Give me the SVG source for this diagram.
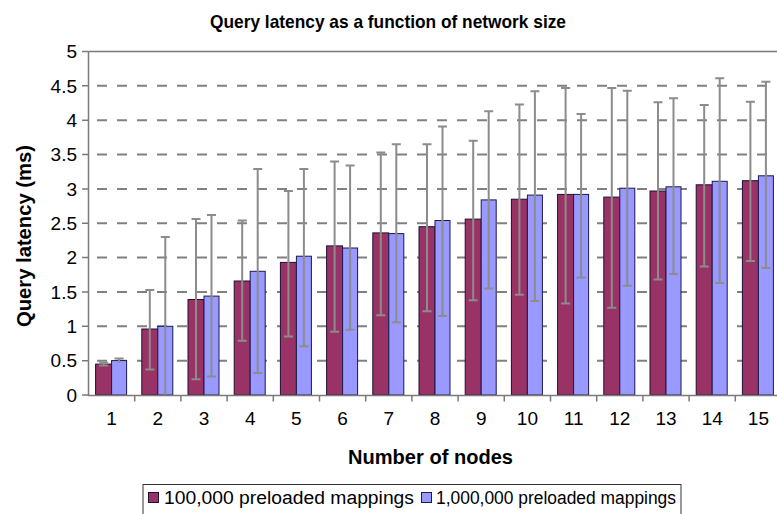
<svg xmlns="http://www.w3.org/2000/svg" width="777" height="514" viewBox="0 0 777 514">
  <style>
    text { font-family: "Liberation Sans", Arial, sans-serif; fill: #000; }
    .title { font-size: 19px; font-weight: bold; }
    .axt { font-size: 20px; font-weight: bold; }
    .tick { font-size: 19px; }
    .leg { font-size: 18px; }
    .grid { stroke: #808080; stroke-width: 2; stroke-dasharray: 10 10; fill: none; }
    .axis { stroke: #7a7a7a; stroke-width: 1.5; fill: none; }
    .r { fill: #993366; stroke: #1e1030; stroke-width: 1; }
    .b { fill: #9999ff; stroke: #1a1a50; stroke-width: 1; }
    .err { stroke: #8c8c8c; stroke-width: 2; fill: none; }
  </style>

  <!-- title -->
  <text class="title" x="388" y="28" text-anchor="middle" textLength="356" lengthAdjust="spacingAndGlyphs">Query latency as a function of network size</text>

  <!-- y-axis title -->
  <text class="axt" transform="translate(31,236) rotate(-90)" text-anchor="middle" textLength="182" lengthAdjust="spacingAndGlyphs">Query latency (ms)</text>

  <!-- horizontal gridlines (0.5 .. 4.5) -->
  <g id="gridlines">
    <path class="grid" d="M97 360.65H777M97 326.3H777M97 291.95H777M97 257.6H777M97 223.25H777M97 188.9H777M97 154.55H777M97 120.2H777M97 85.85H777"/>
    <path class="axis" d="M88.5 51.5H777"/>
  </g>

  <!-- series: 100,000 preloaded mappings -->
  <g id="series-100k">
    <rect class="r" x="95.6" y="364.1" width="16" height="30.9"/>
    <rect class="r" x="141.8" y="329.0" width="16" height="66.0"/>
    <rect class="r" x="188" y="299.5" width="16" height="95.5"/>
    <rect class="r" x="234.2" y="281.0" width="16" height="114"/>
    <rect class="r" x="280.4" y="262.4" width="16" height="132.6"/>
    <rect class="r" x="326.6" y="245.9" width="16" height="149.1"/>
    <rect class="r" x="372.8" y="232.9" width="16" height="162.1"/>
    <rect class="r" x="419" y="226.7" width="16" height="168.3"/>
    <rect class="r" x="465.2" y="219.1" width="16" height="175.9"/>
    <rect class="r" x="511.4" y="199.2" width="16" height="195.8"/>
    <rect class="r" x="557.6" y="194.4" width="16" height="200.6"/>
    <rect class="r" x="603.8" y="197.1" width="16" height="197.9"/>
    <rect class="r" x="650" y="191.0" width="16" height="204"/>
    <rect class="r" x="696.2" y="184.8" width="16" height="210.2"/>
    <rect class="r" x="742.4" y="180.7" width="16" height="214.3"/>
  </g>

  <!-- series: 1,000,000 preloaded mappings -->
  <g id="series-1m">
    <rect class="b" x="111.6" y="360.6" width="15" height="34.4"/>
    <rect class="b" x="157.8" y="326.3" width="15" height="68.7"/>
    <rect class="b" x="204" y="296.1" width="15" height="98.9"/>
    <rect class="b" x="250.2" y="271.3" width="15" height="123.7"/>
    <rect class="b" x="296.4" y="256.2" width="15" height="138.8"/>
    <rect class="b" x="342.6" y="248.0" width="15" height="147"/>
    <rect class="b" x="388.8" y="233.6" width="15" height="161.4"/>
    <rect class="b" x="435" y="220.5" width="15" height="174.5"/>
    <rect class="b" x="481.2" y="199.9" width="15" height="195.1"/>
    <rect class="b" x="527.4" y="195.1" width="15" height="199.9"/>
    <rect class="b" x="573.6" y="194.4" width="15" height="200.6"/>
    <rect class="b" x="619.8" y="188.2" width="15" height="206.8"/>
    <rect class="b" x="666" y="186.8" width="15" height="208.2"/>
    <rect class="b" x="712.2" y="181.3" width="15" height="213.7"/>
    <rect class="b" x="758.4" y="175.8" width="15" height="219.2"/>
  </g>

  <!-- error bars -->
  <g id="errorbars">
    <path class="err" d="M103.6 365.5V362.7M99.1 362.7h9M99.1 365.5h9"/>
    <path class="err" d="M149.8 369.6V289.9M145.3 289.9h9M145.3 369.6h9"/>
    <path class="err" d="M196 379.2V219.1M191.5 219.1h9M191.5 379.2h9"/>
    <path class="err" d="M242.2 340.7V220.5M237.7 220.5h9M237.7 340.7h9"/>
    <path class="err" d="M288.4 336.6V191M283.9 191h9M283.9 336.6h9"/>
    <path class="err" d="M334.6 331.8V161.4M330.1 161.4h9M330.1 331.8h9"/>
    <path class="err" d="M380.8 315.3V152.5M376.3 152.5h9M376.3 315.3h9"/>
    <path class="err" d="M427 311.2V144.2M422.5 144.2h9M422.5 311.2h9"/>
    <path class="err" d="M473.2 300.2V140.8M468.7 140.8h9M468.7 300.2h9"/>
    <path class="err" d="M519.4 294.7V104.4M514.9 104.4h9M514.9 294.7h9"/>
    <path class="err" d="M565.6 303.6V87.9M561.1 87.9h9M561.1 303.6h9"/>
    <path class="err" d="M611.8 307.8V87.9M607.3 87.9h9M607.3 307.8h9"/>
    <path class="err" d="M658 279.6V102.3M653.5 102.3h9M653.5 279.6h9"/>
    <path class="err" d="M704.2 266.5V105.1M699.7 105.1h9M699.7 266.5h9"/>
    <path class="err" d="M750.4 261V101.7M745.9 101.7h9M745.9 261h9"/>

    <path class="err" d="M119.1 362.7V358.6M114.6 358.6h9"/>
    <path class="err" d="M165.3 395V237M160.8 237h9"/>
    <path class="err" d="M211.5 376.5V215M207 215h9M207 376.5h9"/>
    <path class="err" d="M257.7 373V169M253.2 169h9M253.2 373h9"/>
    <path class="err" d="M303.9 346.2V169M299.4 169h9M299.4 346.2h9"/>
    <path class="err" d="M350.1 329.7V165.5M345.6 165.5h9M345.6 329.7h9"/>
    <path class="err" d="M396.3 322.2V144.2M391.8 144.2h9M391.8 322.2h9"/>
    <path class="err" d="M442.5 316V126.4M438 126.4h9M438 316h9"/>
    <path class="err" d="M488.7 288.5V111.3M484.2 111.3h9M484.2 288.5h9"/>
    <path class="err" d="M534.9 300.9V91.3M530.4 91.3h9M530.4 300.9h9"/>
    <path class="err" d="M581.1 277.5V114M576.6 114h9M576.6 277.5h9"/>
    <path class="err" d="M627.3 285.8V90.7M622.8 90.7h9M622.8 285.8h9"/>
    <path class="err" d="M673.5 274.1V98.2M669 98.2h9M669 274.1h9"/>
    <path class="err" d="M719.7 283V78.3M715.2 78.3h9M715.2 283h9"/>
    <path class="err" d="M765.9 267.9V81.7M761.4 81.7h9M761.4 267.9h9"/>
  </g>

  <!-- axes and tick marks -->
  <g id="axes">
    <path class="axis" d="M88.5 51.5V395.5H777"/>
    <path class="axis" d="M82 395H88.5M82 360.65H88.5M82 326.3H88.5M82 291.95H88.5M82 257.6H88.5M82 223.25H88.5M82 188.9H88.5M82 154.55H88.5M82 120.2H88.5M82 85.85H88.5M82 51.5H88.5"/>
    <path class="axis" d="M134.7 395.5V401.5M180.9 395.5V401.5M227.1 395.5V401.5M273.3 395.5V401.5M319.5 395.5V401.5M365.7 395.5V401.5M411.9 395.5V401.5M458.1 395.5V401.5M504.3 395.5V401.5M550.5 395.5V401.5M596.7 395.5V401.5M642.9 395.5V401.5M689.1 395.5V401.5M735.3 395.5V401.5"/>
  </g>

  <!-- y tick labels -->
  <g id="y-labels" text-anchor="end">
    <text class="tick" x="77" y="401.8">0</text>
    <text class="tick" x="77" y="367.4">0.5</text>
    <text class="tick" x="77" y="333.1">1</text>
    <text class="tick" x="77" y="298.8">1.5</text>
    <text class="tick" x="77" y="264.4">2</text>
    <text class="tick" x="77" y="230.1">2.5</text>
    <text class="tick" x="77" y="195.7">3</text>
    <text class="tick" x="77" y="161.4">3.5</text>
    <text class="tick" x="77" y="127">4</text>
    <text class="tick" x="77" y="92.7">4.5</text>
    <text class="tick" x="77" y="58.3">5</text>
  </g>

  <!-- x tick labels -->
  <g id="x-labels" text-anchor="middle">
    <text class="tick" x="111.6" y="425">1</text>
    <text class="tick" x="157.8" y="425">2</text>
    <text class="tick" x="204" y="425">3</text>
    <text class="tick" x="250.2" y="425">4</text>
    <text class="tick" x="296.4" y="425">5</text>
    <text class="tick" x="342.6" y="425">6</text>
    <text class="tick" x="388.8" y="425">7</text>
    <text class="tick" x="435" y="425">8</text>
    <text class="tick" x="481.2" y="425">9</text>
    <text class="tick" x="527.4" y="425">10</text>
    <text class="tick" x="573.6" y="425">11</text>
    <text class="tick" x="619.8" y="425">12</text>
    <text class="tick" x="666" y="425">13</text>
    <text class="tick" x="712.2" y="425">14</text>
    <text class="tick" x="758.4" y="425">15</text>
  </g>

  <!-- x-axis title -->
  <text class="axt" x="430.5" y="464" text-anchor="middle" textLength="165" lengthAdjust="spacingAndGlyphs">Number of nodes</text>

  <!-- legend -->
  <g id="legend">
    <rect x="143" y="484.5" width="538" height="40" fill="#fff" stroke="#333" stroke-width="1"/>
    <rect class="r" x="148.5" y="492.5" width="10" height="10"/>
    <text class="leg" x="164" y="504" textLength="250" lengthAdjust="spacingAndGlyphs">100,000 preloaded mappings</text>
    <rect class="b" x="421.5" y="492.5" width="10" height="10"/>
    <text class="leg" x="436" y="504" textLength="240" lengthAdjust="spacingAndGlyphs">1,000,000 preloaded mappings</text>
  </g>
</svg>
